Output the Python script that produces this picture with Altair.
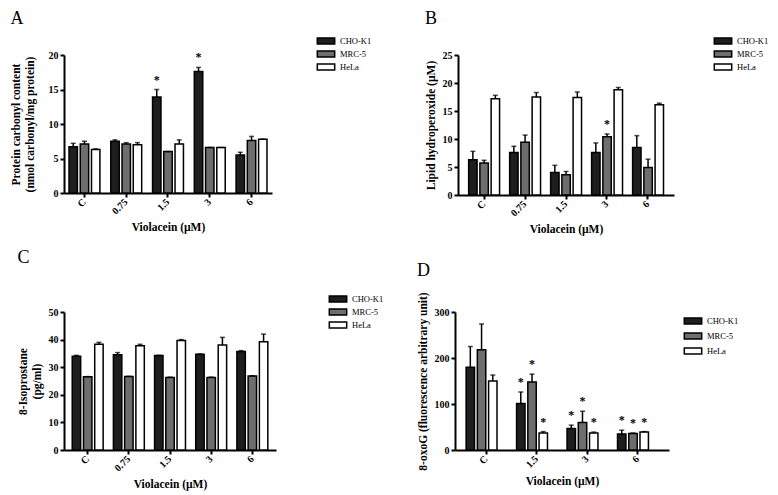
import altair as alt
import pandas as pd

LINES = ["CHO-K1", "MRC-5", "HeLa"]
COLORS = ["#1e1e1e", "#6e6e6e", "#ffffff"]
FONT = "Liberation Serif"

# Panel A: protein carbonyl content
A_cats = ["C", "0.75", "1.5", "3", "6"]
A_cho = [6.7, 7.5, 13.9, 17.6, 5.5]
A_cho_err = [7.2, 7.7, 15.0, 18.2, 5.9]
A_mrc = [7.1, 7.1, 6.0, 6.6, 7.6]
A_mrc_err = [7.5, 7.3, 6.0, 6.6, 8.2]
A_hela = [6.3, 7.0, 7.1, 6.6, 7.8]
A_hela_err = [6.4, 7.3, 7.7, 6.6, 7.8]
A_stars = [["", "", ""], ["", "", ""], ["*", "", ""], ["*", "", ""], ["", "", ""]]

# Panel B: lipid hydroperoxide
B_cats = ["C", "0.75", "1.5", "3", "6"]
B_cho = [6.3, 7.6, 4.0, 7.6, 8.5]
B_cho_err = [7.8, 8.7, 5.3, 9.3, 10.6]
B_mrc = [5.7, 9.4, 3.6, 10.4, 4.9]
B_mrc_err = [6.2, 10.7, 4.2, 10.9, 6.4]
B_hela = [17.2, 17.5, 17.4, 18.8, 16.1]
B_hela_err = [17.8, 18.3, 18.4, 19.2, 16.4]
B_stars = [["", "", ""], ["", "", ""], ["", "", ""], ["", "*", ""], ["", "", ""]]

# Panel C: 8-isoprostane
C_cats = ["C", "0.75", "1.5", "3", "6"]
C_cho = [34.0, 34.5, 34.2, 34.7, 35.7]
C_cho_err = [34.3, 35.3, 34.3, 34.8, 36.0]
C_mrc = [26.5, 26.6, 26.3, 26.3, 26.8]
C_mrc_err = [26.6, 26.7, 26.4, 26.4, 26.9]
C_hela = [38.3, 37.8, 39.7, 38.0, 39.2]
C_hela_err = [39.0, 38.3, 40.0, 40.8, 42.0]
C_stars = [["", "", ""]] * 5

# Panel D: 8-oxoG
D_cats = ["C", "1.5", "3", "6"]
D_cho = [180, 101, 47, 35]
D_cho_err = [225, 126, 54, 43]
D_mrc = [218, 148, 60, 36]
D_mrc_err = [274, 165, 84, 37]
D_hela = [150, 37, 37, 39]
D_hela_err = [163, 40, 39, 40]
D_stars = [["", "", ""], ["*", "*", "*"], ["*", "*", "*"], ["*", "*", "*"]]


def make_df(cats, vals, errs, stars):
    rows = []
    for i, c in enumerate(cats):
        for j, ln in enumerate(LINES):
            rows.append({"cat": c, "line": ln, "value": vals[j][i],
                         "err": errs[j][i], "star": stars[i][j]})
    return pd.DataFrame(rows)


def panel(letter, cats, vals, errs, stars, ytitle, ymax, ystep, width, height,
          pin, pout, legx, legy, legrow, toff, ytpad):
    df = make_df(cats, vals, errs, stars)
    x = alt.X("cat:N", sort=cats,
              scale=alt.Scale(paddingInner=pin, paddingOuter=pout),
              axis=alt.Axis(title="Violacein (µM)", labelAngle=-45,
                            labelAlign="right", labelBaseline="middle",
                            tickSize=4, labelPadding=3, titlePadding=6))
    xo = alt.XOffset("line:N", sort=LINES,
                     scale=alt.Scale(domain=LINES, paddingInner=0.25, paddingOuter=0))
    yvals = list(range(0, ymax + 1, ystep))
    y = alt.Y("value:Q",
              scale=alt.Scale(domain=[0, ymax], nice=False, zero=True),
              axis=alt.Axis(title=ytitle, values=yvals, tickCount=len(yvals) + 2,
                            labelOverlap=False,
                            tickSize=4, labelPadding=2, titlePadding=ytpad))
    color = alt.Color("line:N",
                      scale=alt.Scale(domain=LINES, range=COLORS),
                      sort=LINES,
                      legend=alt.Legend(title=None, orient="none",
                                        legendX=legx, legendY=legy, padding=0,
                                        symbolType="M-1.45,-0.5H1.45V0.5H-1.45Z",
                                        symbolSize=144,
                                        symbolStrokeColor="black",
                                        symbolStrokeWidth=1.5,
                                        labelFont=FONT, labelFontSize=8.5,
                                        labelColor="black",
                                        rowPadding=legrow, labelOffset=7))
    bars = alt.Chart(df).mark_bar(stroke="black", strokeWidth=1.5).encode(
        x=x, xOffset=xo, y=y, color=color)
    rules = alt.Chart(df).mark_rule(color="black", strokeWidth=1.5).encode(
        x=x, xOffset=xo, y="value:Q", y2="err:Q")
    caps = alt.Chart(df).mark_tick(color="black", thickness=1.5, size=5).encode(
        x=x, xOffset=xo, y="err:Q")
    txt = alt.Chart(df).transform_filter("datum.star != ''").mark_text(
        font=FONT, fontSize=12, fontWeight="bold", dy=-3, baseline="bottom",
        fill="black").encode(x=x, xOffset=xo, y="err:Q", text="star:N",
                             color=alt.value("black"))
    return alt.layer(bars, rules, caps, txt).properties(
        width=width, height=height,
        title=alt.TitleParams(letter, anchor="start", frame="bounds",
                              font=FONT, fontSize=18, fontWeight="normal",
                              offset=toff)
    )


pA = panel("A", A_cats, [A_cho, A_mrc, A_hela], [A_cho_err, A_mrc_err, A_hela_err],
           A_stars, ["Protein carbonyl content", "(nmol carbonyl/mg protein)"],
           20, 5, 208, 138, 0.26, 0.12, 255, -21, -2, 6, 13)
pB = panel("B", B_cats, [B_cho, B_mrc, B_hela], [B_cho_err, B_mrc_err, B_hela_err],
           B_stars, "Lipid hydroperoxide (µM)", 25, 5, 216, 140, 0.25, 0.26, 258, -21, -2, 6, 6)
pC = panel("C", C_cats, [C_cho, C_mrc, C_hela], [C_cho_err, C_mrc_err, C_hela_err],
           C_stars, ["8-Isoprostane", "(pg/ml)"], 50, 10, 212, 138, 0.25, 0.2, 267, -20, -1, 25, 6)
pD = panel("D", D_cats, [D_cho, D_mrc, D_hela], [D_cho_err, D_mrc_err, D_hela_err],
           D_stars, "8-oxoG (fluorescence arbitrary unit)", 300, 100, 214, 138,
           0.2, 0.22, 231, 2, 2, 12, 6)

row1 = alt.hconcat(pA, pB, spacing=52).resolve_scale(color="independent")
row2 = alt.hconcat(pC, pD, spacing=32).resolve_scale(color="independent")

chart = alt.vconcat(row1, row2, spacing=13).resolve_scale(
    color="independent").properties(
    padding={"left": 2, "top": 2, "right": 0, "bottom": 0}
).configure_view(stroke=None).configure_axis(
    domainColor="black", domainWidth=2, tickColor="black", tickWidth=2,
    labelFont=FONT, labelFontSize=10, labelFontWeight="bold", labelColor="black",
    titleFont=FONT, titleFontSize=11.5, titleFontWeight="bold", titleColor="black",
    grid=False
)

chart.save("out.html", embed_options={"renderer": "svg", "actions": False})
